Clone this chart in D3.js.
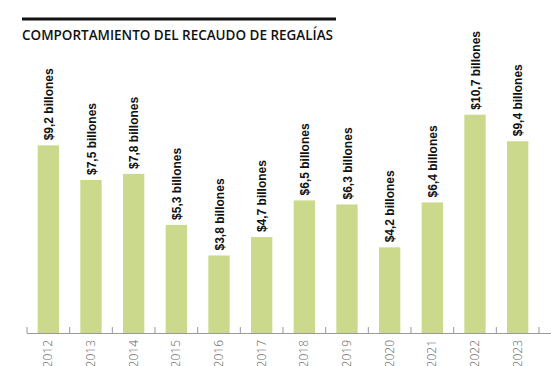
<!DOCTYPE html>
<html>
<head>
<meta charset="utf-8">
<script src="https://cdn.jsdelivr.net/npm/d3@7"></script>
<style>
  body { margin: 0; background: #fff; }
</style>
</head>
<body>
<svg width="551" height="366"></svg>
<script>
let years = ["2012", "2013", "2014", "2015", "2016", "2017", "2018", "2019", "2020", "2021", "2022", "2023"];
let values = [9.2, 7.5, 7.8, 5.3, 3.8, 4.7, 6.5, 6.3, 4.2, 6.4, 10.7, 9.4];
let labels = ["$9,2 billones", "$7,5 billones", "$7,8 billones", "$5,3 billones", "$3,8 billones", "$4,7 billones",
              "$6,5 billones", "$6,3 billones", "$4,2 billones", "$6,4 billones", "$10,7 billones", "$9,4 billones"];
let title = "COMPORTAMIENTO DEL RECAUDO DE REGALÍAS";

let svg = d3.select("svg"),
    width = +svg.attr("width"),
    height = +svg.attr("height");

let baseY = 333;

let x = d3.scaleBand()
    .domain(years)
    .range([27, 539])
    .paddingInner(0.5)
    .paddingOuter(0.25);

let y = d3.scaleLinear()
    .domain([0, 10])
    .range([baseY, baseY - 204]);

// title with rule above
svg.append("line")
    .attr("x1", 22).attr("x2", 336)
    .attr("y1", 19).attr("y2", 19)
    .attr("stroke", "#111")
    .attr("stroke-width", 3);

svg.append("text")
    .attr("x", 22)
    .attr("y", 40)
    .attr("textLength", 311)
    .attr("lengthAdjust", "spacingAndGlyphs")
    .style("font-family", "'Open Sans', sans-serif")
    .style("font-weight", 600)
    .style("font-size", "14.5px")
    .attr("fill", "#111")
    .text(title);

// bars
svg.append("g")
    .selectAll("rect")
    .data(values)
    .enter().append("rect")
    .attr("x", (d, i) => x(years[i]))
    .attr("y", d => y(d))
    .attr("width", x.bandwidth())
    .attr("height", d => baseY - y(d))
    .attr("fill", "#cad98b");

// value labels, rotated
svg.append("g")
    .selectAll("text")
    .data(values)
    .enter().append("text")
    .attr("transform", (d, i) => "translate(" + (x(years[i]) + x.bandwidth() / 2 + 4.5) + "," + (y(d) - 5) + ") rotate(-90)")
    .style("font-family", "'Liberation Sans', Arial, sans-serif")
    .style("font-weight", "bold")
    .style("font-size", "12px")
    .attr("fill", "#111")
    .text((d, i) => labels[i]);

// axis: baseline and ticks between bars
let step = x.step();
let tickPos = d3.range(years.length + 1).map(i => x(years[0]) - x.paddingOuter() * step + i * step);

svg.append("line")
    .attr("x1", tickPos[0]).attr("x2", width)
    .attr("y1", baseY + 0.5).attr("y2", baseY + 0.5)
    .attr("stroke", "#999")
    .attr("stroke-width", 1);

svg.append("g")
    .selectAll("line")
    .data(tickPos)
    .enter().append("line")
    .attr("x1", d => d).attr("x2", d => d)
    .attr("y1", baseY).attr("y2", baseY - 6)
    .attr("stroke", "#999");

// year labels
svg.append("g")
    .selectAll("text")
    .data(years)
    .enter().append("text")
    .attr("transform", d => "translate(" + (x(d) + x.bandwidth() / 2 + 4) + "," + (baseY + 7) + ") rotate(-90)")
    .attr("text-anchor", "end")
    .style("font-family", "'Open Sans', sans-serif")
    .style("font-weight", 300)
    .style("font-size", "12px")
    .attr("fill", "#666")
    .text(d => d);
</script>
</body>
</html>
